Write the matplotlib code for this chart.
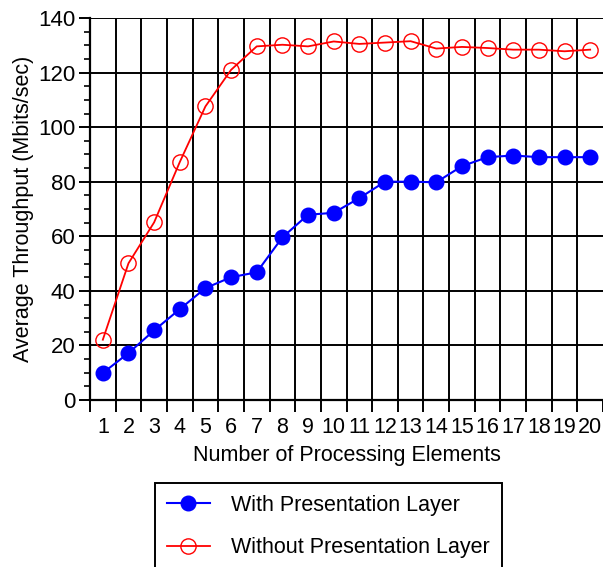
import numpy as np
import matplotlib
matplotlib.use("Agg")
import matplotlib.pyplot as plt
from matplotlib.ticker import FixedLocator, MultipleLocator

plt.rcParams['font.family'] = ['Liberation Sans', 'DejaVu Sans']

# data
elements = list(range(1, 21))
with_layer = [9.9, 17.2, 25.5, 33.3, 41.0, 45.0, 46.8, 59.6, 67.9, 68.6,
              74.0, 80.0, 80.0, 79.8, 85.7, 89.0, 89.6, 89.0, 89.0, 89.0]
without_layer = [22.1, 50.1, 65.1, 87.2, 107.6, 121.0, 129.6, 130.2, 129.6, 131.4,
                 130.5, 131.0, 131.5, 128.8, 129.4, 129.0, 128.4, 128.4, 127.8, 128.4]
tick_labels = [str(e) for e in elements]

fig = plt.figure(figsize=(6.03, 5.67), dpi=100)
ax = fig.add_axes([90 / 603, 1 - 400 / 567, 513 / 603, 382 / 567])

x = np.array(elements)
ax.plot(x, with_layer, color='#0000ff', lw=1.5, marker='o', ms=10.5,
        mfc='#0000ff', mec='#0000ff', label='With Presentation Layer', zorder=3)
ax.plot(x, without_layer, color='#ff0000', lw=1.3, marker='o', ms=11,
        mfc='none', mec='#ff0000', mew=1.0, label='Without Presentation Layer', zorder=3)

ax.set_xlim(0.5, 20.5)
ax.set_ylim(0, 140)

# boundaries between categories get ticks + grid, centres get the labels
bounds = np.arange(0.5, 21.0, 1.0)
ax.xaxis.set_major_locator(FixedLocator(bounds))
ax.xaxis.set_minor_locator(FixedLocator(x))
ax.set_xticklabels([], minor=False)
ax.set_xticklabels(tick_labels, minor=True)
ax.tick_params(axis='x', which='major', direction='out', length=8.5, width=1.4)
ax.tick_params(axis='x', which='minor', length=0, labelsize=15.5, pad=12)

ax.yaxis.set_major_locator(MultipleLocator(20))
ax.yaxis.set_minor_locator(MultipleLocator(5))
ax.tick_params(axis='y', which='major', direction='out', length=8, width=1.4,
               labelsize=16, pad=2.5)
ax.tick_params(axis='y', which='minor', direction='out', length=4, width=1.2)

for xb in bounds[1:-1]:
    ax.axvline(xb, color='black', lw=1.4, zorder=1)
for yv in range(20, 141, 20):
    ax.axhline(yv, color='black', lw=1.4, zorder=1)

for s in ['left', 'bottom']:
    ax.spines[s].set_linewidth(1.6)
ax.spines['top'].set_visible(False)
ax.spines['right'].set_visible(False)

ax.set_xlabel('Number of Processing Elements', fontsize=15.5, labelpad=5)
ax.set_ylabel('Average Throughput (Mbits/sec)', fontsize=15.5, labelpad=3)

leg = fig.legend(loc='upper left', bbox_to_anchor=(155 / 603, 1 - 483 / 567),
                 fontsize=15.5, frameon=True, fancybox=False, framealpha=1,
                 handlelength=2.0, handletextpad=1.0, labelspacing=1.0,
                 borderpad=0.55, borderaxespad=0)
leg.get_frame().set_edgecolor('black')
leg.get_frame().set_linewidth(1.4)

fig.savefig('out.png', dpi=100)
